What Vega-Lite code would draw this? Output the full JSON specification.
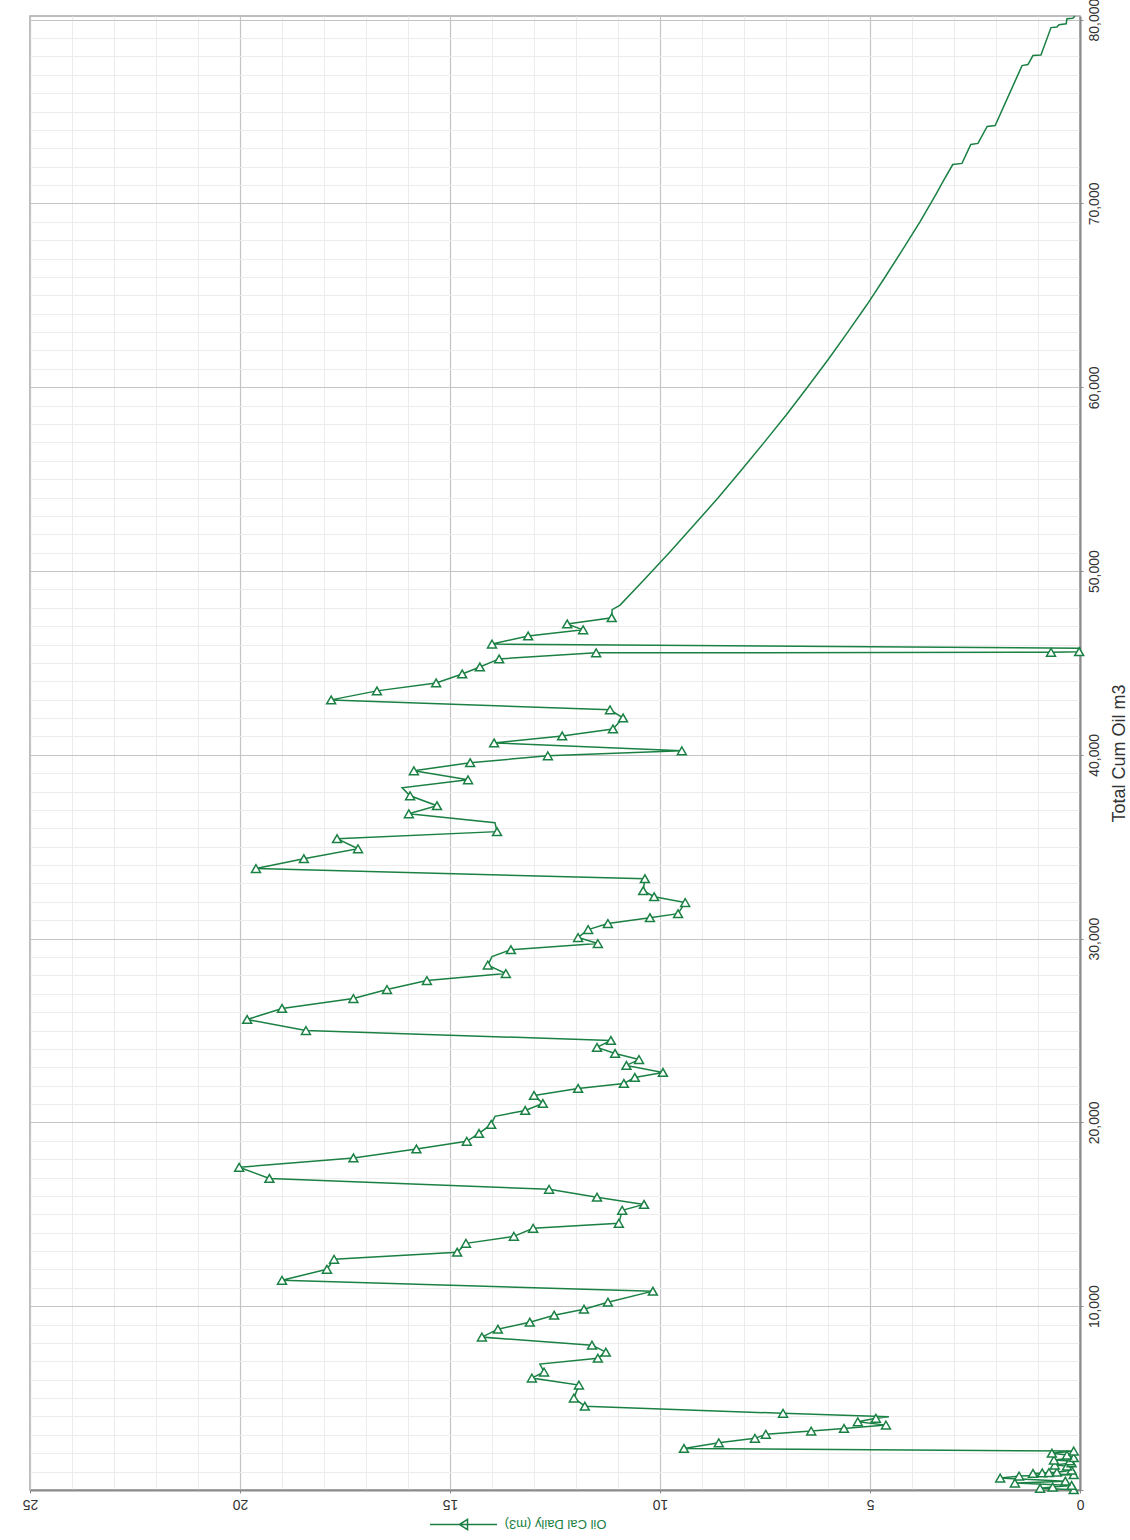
{
  "$schema": "https://vega.github.io/schema/vega-lite/v6.json",
  "width": 1050,
  "height": 1474,
  "autosize": "none",
  "padding": {"left": 30, "top": 16, "right": 50, "bottom": 50},
  "background": "white",
  "config": {
    "font": "Liberation Sans",
    "view": {"stroke": "#a8a8a8", "strokeWidth": 1.5}
  },
  "data": {
    "values": [
      {"cum": 20, "rate": 0.15, "kind": "sample"},
      {"cum": 90, "rate": 0.95, "kind": "sample"},
      {"cum": 160, "rate": 0.65, "kind": "sample"},
      {"cum": 250, "rate": 0.2, "kind": "sample"},
      {"cum": 380, "rate": 1.55, "kind": "sample"},
      {"cum": 480, "rate": 0.35, "kind": "sample"},
      {"cum": 650, "rate": 1.9, "kind": "sample"},
      {"cum": 760, "rate": 1.45, "kind": "sample"},
      {"cum": 830, "rate": 0.15, "kind": "sample"},
      {"cum": 900, "rate": 1.12, "kind": "sample"},
      {"cum": 930, "rate": 0.9, "kind": "sample"},
      {"cum": 950, "rate": 0.74, "kind": "sample"},
      {"cum": 970, "rate": 0.55, "kind": "sample"},
      {"cum": 1080, "rate": 0.2, "kind": "sample"},
      {"cum": 1300, "rate": 0.31, "kind": "sample"},
      {"cum": 1360, "rate": 0.6, "kind": "sample"},
      {"cum": 1470, "rate": 0.2, "kind": "sample"},
      {"cum": 1580, "rate": 0.24, "kind": "sample"},
      {"cum": 1630, "rate": 0.62, "kind": "sample"},
      {"cum": 1760, "rate": 0.15, "kind": "sample"},
      {"cum": 1900, "rate": 0.31, "kind": "sample"},
      {"cum": 2000, "rate": 0.67, "kind": "sample"},
      {"cum": 2120, "rate": 0.15, "kind": "sample"},
      {"cum": 2260, "rate": 9.43, "kind": "sample"},
      {"cum": 2570, "rate": 8.6, "kind": "sample"},
      {"cum": 2810, "rate": 7.74, "kind": "sample"},
      {"cum": 3030, "rate": 7.48, "kind": "sample"},
      {"cum": 3210, "rate": 6.4, "kind": "sample"},
      {"cum": 3350, "rate": 5.62, "kind": "sample"},
      {"cum": 3530, "rate": 4.62, "kind": "sample"},
      {"cum": 3710, "rate": 5.29, "kind": "sample"},
      {"cum": 3900, "rate": 4.86, "kind": "sample"},
      {"cum": 3980, "rate": 4.55, "kind": "bend"},
      {"cum": 4170, "rate": 7.07, "kind": "sample"},
      {"cum": 4560, "rate": 11.79, "kind": "sample"},
      {"cum": 5000, "rate": 12.05, "kind": "sample"},
      {"cum": 5710, "rate": 11.93, "kind": "sample"},
      {"cum": 6090, "rate": 13.05, "kind": "sample"},
      {"cum": 6420, "rate": 12.76, "kind": "sample"},
      {"cum": 6850, "rate": 12.86, "kind": "bend"},
      {"cum": 7170, "rate": 11.48, "kind": "sample"},
      {"cum": 7500, "rate": 11.29, "kind": "sample"},
      {"cum": 7880, "rate": 11.62, "kind": "sample"},
      {"cum": 8320, "rate": 14.24, "kind": "sample"},
      {"cum": 8750, "rate": 13.86, "kind": "sample"},
      {"cum": 9130, "rate": 13.1, "kind": "sample"},
      {"cum": 9510, "rate": 12.52, "kind": "sample"},
      {"cum": 9840, "rate": 11.81, "kind": "sample"},
      {"cum": 10220, "rate": 11.24, "kind": "sample"},
      {"cum": 10820, "rate": 10.17, "kind": "sample"},
      {"cum": 11410, "rate": 19.0, "kind": "sample"},
      {"cum": 12010, "rate": 17.93, "kind": "sample"},
      {"cum": 12550, "rate": 17.76, "kind": "sample"},
      {"cum": 12940, "rate": 14.83, "kind": "sample"},
      {"cum": 13420, "rate": 14.62, "kind": "sample"},
      {"cum": 13800, "rate": 13.48, "kind": "sample"},
      {"cum": 14240, "rate": 13.02, "kind": "sample"},
      {"cum": 14510, "rate": 10.98, "kind": "sample"},
      {"cum": 15220, "rate": 10.9, "kind": "sample"},
      {"cum": 15540, "rate": 10.38, "kind": "sample"},
      {"cum": 15930, "rate": 11.5, "kind": "sample"},
      {"cum": 16360, "rate": 12.64, "kind": "sample"},
      {"cum": 16950, "rate": 19.3, "kind": "sample"},
      {"cum": 17560, "rate": 20.02, "kind": "sample"},
      {"cum": 18070, "rate": 17.3, "kind": "sample"},
      {"cum": 18560, "rate": 15.8, "kind": "sample"},
      {"cum": 18970, "rate": 14.6, "kind": "sample"},
      {"cum": 19400, "rate": 14.31, "kind": "sample"},
      {"cum": 19890, "rate": 14.02, "kind": "sample"},
      {"cum": 20330, "rate": 13.93, "kind": "bend"},
      {"cum": 20650, "rate": 13.21, "kind": "sample"},
      {"cum": 21030, "rate": 12.79, "kind": "sample"},
      {"cum": 21470, "rate": 13.0, "kind": "sample"},
      {"cum": 21850, "rate": 11.95, "kind": "sample"},
      {"cum": 22120, "rate": 10.86, "kind": "sample"},
      {"cum": 22450, "rate": 10.6, "kind": "sample"},
      {"cum": 22720, "rate": 9.93, "kind": "sample"},
      {"cum": 23100, "rate": 10.8, "kind": "sample"},
      {"cum": 23420, "rate": 10.5, "kind": "sample"},
      {"cum": 23750, "rate": 11.07, "kind": "sample"},
      {"cum": 24080, "rate": 11.5, "kind": "sample"},
      {"cum": 24460, "rate": 11.17, "kind": "sample"},
      {"cum": 25000, "rate": 18.43, "kind": "sample"},
      {"cum": 25600, "rate": 19.83, "kind": "sample"},
      {"cum": 26200, "rate": 19.0, "kind": "sample"},
      {"cum": 26740, "rate": 17.3, "kind": "sample"},
      {"cum": 27230, "rate": 16.5, "kind": "sample"},
      {"cum": 27720, "rate": 15.55, "kind": "sample"},
      {"cum": 28100, "rate": 13.67, "kind": "sample"},
      {"cum": 28560, "rate": 14.1, "kind": "sample"},
      {"cum": 29020, "rate": 14.0, "kind": "bend"},
      {"cum": 29400, "rate": 13.55, "kind": "sample"},
      {"cum": 29730, "rate": 11.48, "kind": "sample"},
      {"cum": 30060, "rate": 11.95, "kind": "sample"},
      {"cum": 30490, "rate": 11.71, "kind": "sample"},
      {"cum": 30820, "rate": 11.24, "kind": "sample"},
      {"cum": 31140, "rate": 10.24, "kind": "sample"},
      {"cum": 31360, "rate": 9.57, "kind": "sample"},
      {"cum": 31960, "rate": 9.4, "kind": "sample"},
      {"cum": 32280, "rate": 10.14, "kind": "sample"},
      {"cum": 32610, "rate": 10.4, "kind": "sample"},
      {"cum": 33260, "rate": 10.36, "kind": "sample"},
      {"cum": 33810, "rate": 19.62, "kind": "sample"},
      {"cum": 34350, "rate": 18.48, "kind": "sample"},
      {"cum": 34890, "rate": 17.19, "kind": "sample"},
      {"cum": 35440, "rate": 17.69, "kind": "sample"},
      {"cum": 35820, "rate": 13.88, "kind": "sample"},
      {"cum": 36310, "rate": 13.93, "kind": "bend"},
      {"cum": 36790, "rate": 15.98, "kind": "sample"},
      {"cum": 37230, "rate": 15.31, "kind": "sample"},
      {"cum": 37770, "rate": 15.95, "kind": "sample"},
      {"cum": 38210, "rate": 16.14, "kind": "bend"},
      {"cum": 38640, "rate": 14.57, "kind": "sample"},
      {"cum": 39130, "rate": 15.86, "kind": "sample"},
      {"cum": 39570, "rate": 14.52, "kind": "sample"},
      {"cum": 39950, "rate": 12.67, "kind": "sample"},
      {"cum": 40220, "rate": 9.48, "kind": "sample"},
      {"cum": 40650, "rate": 13.95, "kind": "sample"},
      {"cum": 41030, "rate": 12.33, "kind": "sample"},
      {"cum": 41410, "rate": 11.12, "kind": "sample"},
      {"cum": 42010, "rate": 10.88, "kind": "sample"},
      {"cum": 42450, "rate": 11.19, "kind": "sample"},
      {"cum": 42990, "rate": 17.83, "kind": "sample"},
      {"cum": 43480, "rate": 16.74, "kind": "sample"},
      {"cum": 43910, "rate": 15.33, "kind": "sample"},
      {"cum": 44400, "rate": 14.71, "kind": "sample"},
      {"cum": 44780, "rate": 14.29, "kind": "sample"},
      {"cum": 45220, "rate": 13.83, "kind": "sample"},
      {"cum": 45550, "rate": 11.52, "kind": "sample"},
      {"cum": 45580, "rate": 0.69, "kind": "sample"},
      {"cum": 45610, "rate": 0.02, "kind": "sample"},
      {"cum": 45800, "rate": 0.0, "kind": "bend"},
      {"cum": 46030, "rate": 14.0, "kind": "sample"},
      {"cum": 46470, "rate": 13.14, "kind": "sample"},
      {"cum": 46800, "rate": 11.83, "kind": "sample"},
      {"cum": 47120, "rate": 12.21, "kind": "sample"},
      {"cum": 47460, "rate": 11.15, "kind": "sample"},
      {"cum": 47900, "rate": 11.14, "kind": "forecast"},
      {"cum": 48150, "rate": 10.95, "kind": "forecast"},
      {"cum": 49500, "rate": 10.39, "kind": "forecast"},
      {"cum": 51000, "rate": 9.78, "kind": "forecast"},
      {"cum": 52500, "rate": 9.19, "kind": "forecast"},
      {"cum": 54000, "rate": 8.61, "kind": "forecast"},
      {"cum": 55500, "rate": 8.06, "kind": "forecast"},
      {"cum": 57000, "rate": 7.52, "kind": "forecast"},
      {"cum": 58500, "rate": 6.99, "kind": "forecast"},
      {"cum": 60000, "rate": 6.49, "kind": "forecast"},
      {"cum": 61500, "rate": 6.0, "kind": "forecast"},
      {"cum": 63000, "rate": 5.53, "kind": "forecast"},
      {"cum": 64500, "rate": 5.07, "kind": "forecast"},
      {"cum": 66000, "rate": 4.64, "kind": "forecast"},
      {"cum": 67500, "rate": 4.22, "kind": "forecast"},
      {"cum": 69000, "rate": 3.81, "kind": "forecast"},
      {"cum": 70500, "rate": 3.43, "kind": "forecast"},
      {"cum": 71200, "rate": 3.26, "kind": "forecast"},
      {"cum": 72120, "rate": 3.03, "kind": "forecast"},
      {"cum": 72180, "rate": 2.81, "kind": "forecast"},
      {"cum": 73210, "rate": 2.6, "kind": "forecast"},
      {"cum": 73270, "rate": 2.43, "kind": "forecast"},
      {"cum": 74190, "rate": 2.21, "kind": "forecast"},
      {"cum": 74240, "rate": 2.02, "kind": "forecast"},
      {"cum": 77500, "rate": 1.38, "kind": "forecast"},
      {"cum": 77560, "rate": 1.24, "kind": "forecast"},
      {"cum": 78050, "rate": 1.12, "kind": "forecast"},
      {"cum": 78080, "rate": 0.93, "kind": "forecast"},
      {"cum": 79570, "rate": 0.69, "kind": "forecast"},
      {"cum": 79600, "rate": 0.55, "kind": "forecast"},
      {"cum": 79730, "rate": 0.5, "kind": "forecast"},
      {"cum": 79780, "rate": 0.33, "kind": "forecast"},
      {"cum": 80050, "rate": 0.31, "kind": "forecast"},
      {"cum": 80080, "rate": 0.17, "kind": "forecast"},
      {"cum": 80200, "rate": 0.12, "kind": "forecast"}
    ]
  },
  "layer": [
    {
      "mark": {"type": "line", "strokeWidth": 1.5, "interpolate": "linear"},
      "encoding": {
        "x": {
          "field": "rate", "type": "quantitative",
          "scale": {"domain": [0, 25], "reverse": true, "nice": false, "zero": false},
          "axis": {
            "orient": "bottom", "grid": true, "gridColor": "#ececec", "gridWidth": 1,
            "values": [1, 2, 3, 4, 6, 7, 8, 9, 11, 12, 13, 14, 16, 17, 18, 19, 21, 22, 23, 24],
            "labels": false, "ticks": false, "domain": false, "title": null
          }
        },
        "y": {
          "field": "cum", "type": "quantitative",
          "scale": {"domain": [0, 80200], "nice": false},
          "axis": {
            "orient": "right", "grid": true, "gridColor": "#ececec", "gridWidth": 1,
            "values": [1000, 2000, 3000, 4000, 5000, 6000, 7000, 8000, 9000, 11000, 12000, 13000, 14000, 15000, 16000, 17000, 18000, 19000, 21000, 22000, 23000, 24000, 25000, 26000, 27000, 28000, 29000, 31000, 32000, 33000, 34000, 35000, 36000, 37000, 38000, 39000, 41000, 42000, 43000, 44000, 45000, 46000, 47000, 48000, 49000, 51000, 52000, 53000, 54000, 55000, 56000, 57000, 58000, 59000, 61000, 62000, 63000, 64000, 65000, 66000, 67000, 68000, 69000, 71000, 72000, 73000, 74000, 75000, 76000, 77000, 78000, 79000],
            "labels": false, "ticks": false, "domain": false, "title": null
          }
        },
        "order": {"field": "cum", "type": "quantitative"},
        "color": {
          "datum": "Oil Cal Daily (m3)",
          "scale": {"range": ["#1a8043"]},
          "legend": {
            "orient": "none", "legendX": 399, "legendY": 1474, "padding": 0,
            "title": null, "labelExpr": "''",
            "symbolType": "M-1,0L1,0M-0.12,0L0.12,-0.15L0.12,0.15Z",
            "symbolSize": 4489, "symbolStrokeWidth": 1.5,
            "symbolStrokeColor": "#1a8043", "symbolFillColor": "transparent", "symbolOpacity": 1
          }
        }
      }
    },
    {
      "transform": [{"filter": "datum.kind == 'sample'"}],
      "mark": {"type": "point", "shape": "triangle-up", "size": 80, "filled": true, "fill": "white", "stroke": "#1a8043", "strokeWidth": 1.5, "opacity": 1},
      "encoding": {
        "x": {
          "field": "rate", "type": "quantitative",
          "scale": {"domain": [0, 25], "reverse": true, "nice": false, "zero": false},
          "axis": {
            "orient": "bottom", "values": [0, 5, 10, 15, 20, 25], "grid": true,
            "gridColor": "#c4c4c4", "gridWidth": 1.2,
            "domainColor": "#8a8a8a", "domainWidth": 2,
            "tickColor": "#8a8a8a", "tickSize": 3,
            "labelAngle": 180, "labelAlign": "center", "labelBaseline": "bottom",
            "labelFontSize": 14, "labelColor": "#333333", "labelPadding": 3,
            "title": "Oil Cal Daily (m3)", "titleAngle": 180, "titleColor": "#1a8043",
            "titleFontSize": 13, "titleFontWeight": "normal",
            "titleAlign": "center", "titleBaseline": "middle", "titleX": 525, "titleY": 33
          }
        },
        "y": {
          "field": "cum", "type": "quantitative",
          "scale": {"domain": [0, 80200], "nice": false},
          "axis": {
            "orient": "right", "values": [0, 10000, 20000, 30000, 40000, 50000, 60000, 70000, 80000],
            "labelExpr": "datum.value == 0 ? '' : format(datum.value, ',')",
            "grid": true, "gridColor": "#c4c4c4", "gridWidth": 1.2,
            "domainColor": "#8a8a8a", "domainWidth": 2,
            "tickColor": "#8a8a8a", "tickSize": 3,
            "labelAngle": -90, "labelAlign": "center", "labelBaseline": "top",
            "labelFontSize": 14, "labelColor": "#333333", "labelPadding": 4,
            "title": "Total Cum Oil m3", "titleAngle": 270, "titleColor": "#333333",
            "titleFontSize": 18, "titleFontWeight": "normal",
            "titleAlign": "center", "titleBaseline": "middle", "titleX": 39, "titleY": 737
          }
        }
      }
    }
  ],
  "resolve": {"axis": {"x": "independent", "y": "independent"}}
}
